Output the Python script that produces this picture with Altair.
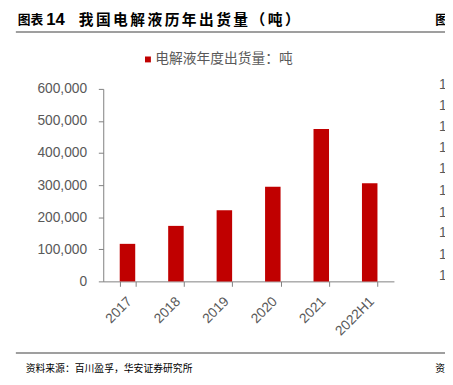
import altair as alt
import pandas as pd

years = ["2017", "2018", "2019", "2020", "2021", "2022H1"]
shipments = [117000, 173000, 222000, 295000, 475000, 306000]
series_name = "电解液年度出货量：吨"
title_prefix = "图表"
title_num = "14"
title_main = "我国电解液历年出货量（吨）"
source_text = "资料来源：百川盈孚，华安证券研究所"
right_ticks = ["1"] * 10
right_tick_y = [-4, 17, 39, 60, 82, 104, 126, 147, 169, 191]

W, H = 296, 196
FONT = "Liberation Sans"
CJK = "Noto Sans CJK SC"
GRAY = "#595959"
AXIS = "#7f7f7f"
RED = "#C00000"

df = pd.DataFrame({"year": years, "value": shipments})
one = pd.DataFrame({"k": [0]})

bars = alt.Chart(df).mark_bar(color=RED).encode(
    x=alt.X("year:N", sort=years, title=None,
            scale=alt.Scale(paddingInner=0.68, paddingOuter=0.34),
            axis=alt.Axis(labelAngle=-45, labelFontSize=14, labelFont=FONT, labelColor=GRAY,
                          tickBand="extent", tickSize=5, tickColor=AXIS, domainColor=AXIS,
                          labelPadding=8, labelOffset=-3, grid=False)),
    y=alt.Y("value:Q", title=None,
            scale=alt.Scale(domain=[0, 600000], nice=False),
            axis=alt.Axis(values=[0, 100000, 200000, 300000, 400000, 500000, 600000],
                          format=",.0f", labelFontSize=14, labelFont=FONT, labelColor=GRAY,
                          tickSize=5, tickColor=AXIS, domainColor=AXIS, grid=False,
                          labelPadding=12)),
)


def label(txt, x, y, size, font=CJK, weight="normal", color="#000000"):
    return alt.Chart(one).mark_text(align="left", baseline="middle", font=font,
                                    fontSize=size, fontWeight=weight, color=color).encode(
        x=alt.value(x), y=alt.value(y), text=alt.value(txt))


def hline(y):
    return alt.Chart(one).mark_rect(color="#404040", opacity=1).encode(
        x=alt.value(-89), x2=alt.value(348), y=alt.value(y - 0.5), y2=alt.value(y + 0.5))


layers = [bars]
layers.append(alt.Chart(one).mark_square(color=RED, size=36, opacity=1).encode(
    x=alt.value(45.5), y=alt.value(-30)))
layers.append(label(series_name, 53, -30, 14, color=GRAY))
layers.append(label(title_prefix, -87, -70, 13, weight="bold"))
layers.append(label(title_num, -58, -70, 17, font=FONT, weight="bold"))
for i, ch in enumerate(title_main):
    layers.append(label(ch, -25 + 17.5 * i, -70, 15, weight="bold"))
layers.append(label("图", 338, -70, 13, weight="bold"))
layers.append(label(source_text, -79, 285, 10))
layers.append(label("资", 338, 285, 10))
for t, yy in zip(right_ticks, right_tick_y):
    layers.append(label(t, 342, yy, 14, font=FONT, color=GRAY))
layers.append(hline(-58))
layers.append(hline(269))

chart = alt.layer(*layers).properties(
    width=W, height=H,
    background="white",
    autosize=alt.AutoSizeParams(type="none"),
    padding={"left": 97, "top": 79, "right": 52, "bottom": 95},
).configure_view(strokeWidth=0, stroke="transparent")

chart.save("out.html", embed_options={"renderer": "svg", "actions": False})
